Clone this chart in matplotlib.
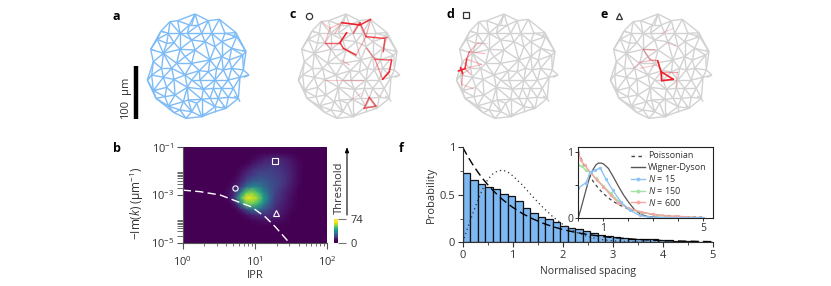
import numpy as np
import matplotlib
matplotlib.use("Agg")
import matplotlib.pyplot as plt
import matplotlib.tri as mtri
from matplotlib.collections import LineCollection
from matplotlib.ticker import FixedLocator, NullFormatter, FuncFormatter

plt.rcParams["font.family"] = ["Open Sans", "DejaVu Sans"]
plt.rcParams["mathtext.fontset"] = "custom"
plt.rcParams["mathtext.rm"] = "Open Sans"
plt.rcParams["mathtext.it"] = "Open Sans:italic"
plt.rcParams["mathtext.bf"] = "Open Sans:bold"
plt.rcParams["font.size"] = 7.5

W, H = 831, 286
TEXT = "#333333"

# network nodes (x, y), same units in all panels
nodes = [
    (285,42),(268,75),(295,75),(325,62),(358,58),(233,62),(210,65),
    (183,93),(205,100),(240,100),(262,100),(305,100),(335,100),(375,100),(408,98),
    (172,118),(200,130),(222,128),(275,120),(315,125),(365,125),(410,110),
    (152,148),(190,160),(240,148),(285,150),(345,140),(395,145),(438,155),
    (160,185),(230,190),(255,170),(275,190),(330,180),(365,170),(388,180),(428,165),
    (155,225),(185,205),(215,205),(298,212),(325,215),(350,205),(370,210),(395,205),(430,210),(447,225),
    (142,240),(190,232),(255,225),(275,240),(300,240),(345,240),(385,240),(420,232),
    (160,272),(200,262),(222,238),(262,262),(310,268),(340,265),(365,265),(400,265),
    (168,295),(195,290),(225,285),(265,300),(305,298),(330,295),(355,295),(385,292),(415,295),
    (205,318),(250,305),(290,310),(345,320),(378,325),
    (222,338),(258,355),(305,350),(345,335),(275,335),(240,330),
]
# short stubs on the rim
stubs = [
    (285,42,275,75),(152,148,165,152),(142,240,150,232),(160,272,172,268),
    (415,295,402,288),(415,295,420,305),(447,225,432,232),(438,155,428,150),
    (378,325,368,318),(305,350,312,340),(408,98,398,112),(183,93,193,98),
]

# highlighted edges: x1, y1, x2, y2, strength
red_c = [
    (272,68,327,75,1.0),(327,75,359,58,.9),(272,68,252,100,.35),(222,128,267,128,.7),
    (267,128,287,98,1.0),(267,128,277,145,.8),(277,145,315,165,.9),(307,100,327,68,.7),
    (327,68,345,110,.7),(345,110,359,58,.4),(345,110,397,115,.8),(397,115,409,112,.6),
    (397,155,402,115,.8),(315,165,345,110,.35),(347,145,372,178,.5),(372,178,422,180,.7),
    (422,180,415,215,.9),(415,215,395,238,1.0),(395,238,372,178,.5),(339,325,355,292,.7),
    (355,292,375,318,.7),(375,318,339,325,.7),(222,240,337,240,.25),(212,65,237,85,.25),
    (237,85,222,128,.3),(237,85,272,68,.3),(222,128,240,148,.3),(272,180,295,195,.3),
    (300,300,330,280,.2),(375,280,390,290,.15),
]
red_d = [
    (148,213,168,206,1.0),(155,203,161,221,1.0),(168,206,173,178,.9),(173,178,181,155,.6),
    (173,178,218,193,.3),(181,155,228,161,.3),(181,155,208,128,.3),(208,128,233,128,.2),
    (168,206,185,223,.4),(161,221,158,253,.4),(158,253,193,266,.25),(168,206,218,193,.3),
]
red_e = [
    (284,182,294,215,1.0),(294,215,296,242,1.0),(296,242,331,238,1.0),(294,215,331,238,1.0),
    (261,180,284,182,.5),(241,148,261,180,.4),(241,148,276,150,.3),(211,205,231,187,.25),
    (231,187,261,182,.3),(231,205,281,195,.25),(294,215,343,215,.4),(343,215,339,262,.25),
    (296,100,331,85,.2),(311,128,339,138,.2),
]

# heatmap of counts, top row is 1e-1, bottom row is 1e-5
heat_counts = [
    [0]*26,
    [0,0,0,0,0,0,0,0,0,0,0,0,0,0,1,1,1,1,1,0,0,0,0,0,0,0],
    [0,0,0,0,0,0,0,0,0,0,0,0,1,3,5,7,8,7,5,3,1,0,0,0,0,0],
    [0,0,0,0,0,0,0,0,0,0,0,1,4,7,9,10,10,9,7,4,2,0,0,0,0,0],
    [0,0,0,0,0,0,0,0,0,0,2,5,9,12,13,14,13,11,8,5,2,0,0,0,0,0],
    [0,0,0,0,0,0,0,0,0,0,4,9,13,16,17,16,14,12,9,5,2,0,0,0,0,0],
    [0,0,0,0,0,0,0,0,0,2,7,14,20,22,21,18,16,13,9,5,2,0,0,0,0,0],
    [0,0,0,0,0,0,0,0,1,5,12,26,34,32,26,20,16,12,8,4,1,0,0,0,0,0],
    [0,0,0,0,0,0,0,0,3,10,30,55,60,50,34,22,15,10,6,3,0,0,0,0,0,0],
    [0,0,0,0,0,0,0,0,2,14,50,72,70,62,42,24,13,9,5,2,0,0,0,0,0,0],
    [0,0,0,0,0,0,0,0,0,5,30,55,58,50,34,20,11,7,4,2,0,0,0,0,0,0],
    [0,0,0,0,0,0,0,0,0,0,6,18,28,28,20,14,9,6,3,1,0,0,0,0,0,0],
    [0,0,0,0,0,0,0,0,0,0,0,3,7,10,10,9,7,4,2,0,0,0,0,0,0,0],
    [0,0,0,0,0,0,0,0,0,0,0,0,1,2,3,4,3,2,1,0,0,0,0,0,0,0],
    [0]*26, [0]*26, [0]*26, [0]*26,
]
boundary_ipr = [1, 1.74, 3.3, 5, 8.9, 13.9, 19, 29]
boundary_im = [1.6e-3, 1.38e-3, 1e-3, 6.2e-4, 3.2e-4, 1.2e-4, 4.7e-5, 1.1e-5]
circle_pt = (5.3, 2e-3)
square_pt = (18.7, 2.7e-2)
triangle_pt = (19.3, 1.7e-4)

# panel f histogram
bar_width = 0.15
bar_heights = [.73,.655,.615,.585,.565,.51,.49,.435,.365,.31,.27,.25,.215,.17,.155,.14,.115,
               .095,.08,.065,.06,.05,.04,.035,.03,.03,.022,.02,.017,.012,.01,.008,.006]
s_grid = [0,.1,.2,.3,.4,.5,.6,.7,.8,.9,1,1.2,1.4,1.6,1.8,2,2.25,2.5,2.75,3,3.5,4,4.5,5]
poisson = [1,.905,.819,.741,.670,.607,.549,.497,.449,.407,.368,.301,.247,.202,.165,.135,.105,.082,.064,.050,.030,.018,.011,.007]
wigner_main = [0,.155,.30,.44,.56,.66,.72,.75,.76,.74,.70,.60,.48,.37,.27,.19,.11,.06,.03,.015,.003,0,0,0]
wigner_inset = [0,.13,.27,.41,.55,.66,.74,.80,.83,.83,.82,.75,.62,.48,.35,.24,.12,.05,.02,.01,0,0,0,0]
n15_x = [0,.3,.5,.68,.87,1.1,1.37,1.7,2.05,2.45,2.8,3.5,5]
n15_y = [.45,.53,.7,.72,.76,.59,.42,.24,.115,.035,.01,0,0]
n150_x = [0,.15,.3,.5,.7,1,1.3,1.6,2,2.5,3,3.5,4,5]
n150_y = [.8,.78,.72,.68,.6,.48,.37,.25,.14,.08,.05,.02,.01,0]
n600_x = [0,.1,.25,.5,.75,1,1.3,1.6,2,2.5,3,3.5,4,5]
n600_y = [1,.87,.8,.68,.57,.47,.34,.23,.14,.09,.05,.03,.02,0]
legend_labels = ["Poissonian", "Wigner-Dyson", r"$N$ = 15", r"$N$ = 150", r"$N$ = 600"]


def px_axes(x0, y0, x1, y1, **kw):
    return fig.add_axes([x0/W, 1-y1/H, (x1-x0)/W, (y1-y0)/H], **kw)


def ftext(x, y, s, **kw):
    return fig.text(x/W, 1-y/H, s, **kw)


fig = plt.figure(figsize=(W/100, H/100), dpi=100)

# network edges from the nodes
pts = np.array(nodes, dtype=float)
tri = mtri.Triangulation(pts[:, 0], pts[:, 1])
edge_segs = []
for a, b in tri.edges:
    if np.hypot(*(pts[a]-pts[b])) < 70:
        edge_segs.append([pts[a], pts[b]])
for x1, y1, x2, y2 in stubs:
    edge_segs.append([(x1, y1), (x2, y2)])


def network(shift, color, red=None):
    ax = px_axes(100+shift, 0, 280+shift, 135)
    ax.set_xlim(0, 540)
    ax.set_ylim(405, 0)
    ax.axis("off")
    ax.add_collection(LineCollection(edge_segs, colors=color, linewidths=1.0))
    if red:
        for x1, y1, x2, y2, st in red:
            ax.plot([x1, x2], [y1, y2], color="#f0202a", alpha=st, lw=0.7+0.5*st,
                    solid_capstyle="round")
    return ax


ax_a = network(0, "#7dbbf7")
ax_a.plot([107, 107], [198, 358], color="black", lw=3.2, solid_capstyle="butt")
ftext(126, 119, "100", rotation=90, ha="center", va="bottom", color=TEXT, fontsize=8)
ftext(126, 94, "µm", rotation=90, ha="center", va="bottom", color=TEXT, fontsize=8)
network(151, "#d2d2d2", red_c)
network(309, "#d2d2d2", red_d)
network(463, "#d2d2d2", red_e)

for x, y, s in [(116, 16, "a"), (117, 148, "b"), (293, 15, "c"), (450, 15, "d"),
                (604, 15, "e"), (401, 148, "f")]:
    ftext(x, y, s, fontweight="bold", fontsize=9, ha="center", va="center", color="black")

# little symbols next to the panel letters
ax_sym = px_axes(0, 0, W, H)
ax_sym.set_xlim(0, W)
ax_sym.set_ylim(H, 0)
ax_sym.axis("off")
ax_sym.patch.set_alpha(0)
ax_sym.plot([309], [15.5], "o", mfc="none", mec="#333333", ms=4.5, mew=0.9)
ax_sym.plot([466], [15], "s", mfc="none", mec="#333333", ms=4.5, mew=0.9)
ax_sym.plot([619], [15.5], "^", mfc="none", mec="#333333", ms=4.5, mew=0.9)

# panel b
ax_b = px_axes(182.7, 147.3, 327.3, 242.7)
counts = np.array(heat_counts, dtype=float)[::-1]
xc = np.logspace(0, 2, counts.shape[1])
yc = np.logspace(-5, -1, counts.shape[0])
ax_b.set_facecolor(plt.cm.viridis(0))
mesh = ax_b.pcolormesh(xc, yc, counts, cmap="viridis", vmin=0, vmax=74, shading="gouraud")
ax_b.set_xscale("log")
ax_b.set_yscale("log")
ax_b.set_xlim(1, 100)
ax_b.set_ylim(1e-5, 1e-1)
ax_b.plot(boundary_ipr, boundary_im, color="white", lw=1.0, dashes=(6, 3))
for pt, m in [(circle_pt, "o"), (square_pt, "s"), (triangle_pt, "^")]:
    ax_b.plot([pt[0]], [pt[1]], m, mfc="none", mec="white", ms=3.8, mew=0.8)
for sp in ["top", "right"]:
    ax_b.spines[sp].set_visible(False)
for sp in ["left", "bottom"]:
    ax_b.spines[sp].set_color("#555555")
    ax_b.spines[sp].set_linewidth(0.8)
ax_b.xaxis.set_major_locator(FixedLocator([1, 10, 100]))
ax_b.xaxis.set_minor_locator(FixedLocator([k*d for d in (1, 10) for k in range(2, 10)]))
ax_b.yaxis.set_major_locator(FixedLocator([1e-5, 1e-3, 1e-1]))
ax_b.yaxis.set_minor_locator(FixedLocator([k*d for d in (1e-5, 1e-3) for k in range(2, 10)]))
ax_b.xaxis.set_minor_formatter(NullFormatter())
ax_b.yaxis.set_minor_formatter(NullFormatter())
ax_b.xaxis.set_major_formatter(FuncFormatter(lambda v, p: r"$\mathregular{10^{%d}}$" % round(np.log10(v))))
ax_b.yaxis.set_major_formatter(FuncFormatter(lambda v, p: r"$\mathregular{10^{%d}}$" % round(np.log10(v))))
ax_b.tick_params(which="major", length=4, width=0.8, color="#555555", labelcolor=TEXT, labelsize=8, pad=2)
ax_b.tick_params(axis="y", which="minor", length=4, width=0.6, color="#555555")
ax_b.tick_params(axis="x", which="minor", length=2, width=0.6, color="#555555")
ax_b.tick_params(axis="x", which="major", pad=5)
ax_b.set_xlabel("IPR", color=TEXT, fontsize=8, labelpad=1)
ftext(137, 203, r"$-$Im($k$) (µm$^{-1}$)", rotation=90, ha="center", va="center", color=TEXT, fontsize=8.5)

# colour bar for panel b
ax_cb = px_axes(334, 219.3, 338, 242.7)
ax_cb.imshow(np.array([[74], [50], [25], [0]], dtype=float), cmap="viridis", vmin=0, vmax=74,
             aspect="auto", extent=[0, 1, 0, 74], interpolation="bilinear")
ax_cb.set_xticks([])
ax_cb.yaxis.tick_right()
ax_cb.set_yticks([0, 74])
ax_cb.tick_params(length=6, width=0.8, color="#777777", labelcolor=TEXT, labelsize=8, pad=3)
for sp in ax_cb.spines.values():
    sp.set_visible(False)
ftext(339.5, 188, "Threshold", rotation=90, ha="center", va="center", color=TEXT, fontsize=8)
ax_sym.annotate("", xy=(347, 147), xytext=(347, 215),
                arrowprops=dict(arrowstyle="-|>,head_width=0.15,head_length=0.4", color="black", lw=0.8, shrinkA=0, shrinkB=0))

# panel f
ax_f = px_axes(462.7, 147.3, 712.7, 242.3)
bar_left = [i*bar_width for i in range(len(bar_heights))]
ax_f.bar(bar_left, bar_heights, width=bar_width, align="edge", color="#7db8f2", edgecolor="#111111", linewidth=0.9)
ax_f.plot(s_grid, poisson, color="black", lw=1.0, dashes=(6, 3))
ax_f.plot(s_grid, wigner_main, color="#333333", lw=0.9, dashes=(1, 2.5))
ax_f.set_xlim(0, 5)
ax_f.set_ylim(0, 1)
for sp in ["top", "right"]:
    ax_f.spines[sp].set_visible(False)
for sp in ["left", "bottom"]:
    ax_f.spines[sp].set_color("#333333")
    ax_f.spines[sp].set_linewidth(0.8)
ax_f.set_xticks([0, 1, 2, 3, 4, 5])
ax_f.set_xticks([.5, 1.5, 2.5, 3.5, 4.5], minor=True)
ax_f.set_yticks([0, .5, 1])
ax_f.set_yticklabels(["0", "0.5", "1"])
ax_f.set_yticks([.25, .75], minor=True)
ax_f.tick_params(which="major", length=3.5, width=0.8, color="#333333", labelcolor=TEXT, labelsize=8, pad=2)
ax_f.tick_params(which="minor", length=2, width=0.6, color="#333333")
ax_f.set_xlabel("Normalised spacing", color=TEXT, fontsize=7.5, labelpad=4)
ax_f.set_ylabel("Probability", color=TEXT, fontsize=8, labelpad=2)

# inset of panel f
ax_in = px_axes(578.3, 147.3, 712.7, 217.7)
ax_in.plot(s_grid, poisson, color="#444444", lw=0.9, dashes=(2.5, 2.5))
ax_in.plot(s_grid, wigner_inset, color="#555555", lw=0.9)
ax_in.plot(n150_x, n150_y, color="#a4e3a4", lw=1.0, marker="o", ms=1.3)
ax_in.plot(n600_x, n600_y, color="#f5a6a0", lw=1.0, marker="o", ms=1.3)
ax_in.plot(n15_x, n15_y, color="#8fc3f5", lw=1.0, marker="o", ms=1.3)
ax_in.set_xlim(0, 5.37)
ax_in.set_ylim(0, 1.07)
ax_in.set_xticks([0, 1, 2, 3, 4, 5])
ax_in.set_xticklabels(["", "1", "", "", "", "5"])
ax_in.set_yticks([0, .5, 1])
ax_in.set_yticklabels(["0", "", "1"])
ax_in.tick_params(length=2, width=0.7, color="#333333", labelcolor=TEXT, labelsize=7.5, pad=1.5)
for sp in ax_in.spines.values():
    sp.set_color("#222222")
    sp.set_linewidth(0.8)

# legend rows placed by hand so the spacing stays even
legend_colors = ["#444444", "#555555", "#8fc3f5", "#a4e3a4", "#f5a6a0"]
legend_rows = [155.7, 167.3, 179, 190.7, 202.3]
for i in range(5):
    yy = legend_rows[i]
    row, = ax_sym.plot([630.7, 645], [yy, yy], color=legend_colors[i], lw=1.0)
    if i == 0:
        row.set_dashes((2.5, 2.5))
    if i >= 2:
        ax_sym.plot([637.8], [yy], "o", color=legend_colors[i], ms=1.8)
    ftext(648.3, yy, legend_labels[i], ha="left", va="center", color=TEXT, fontsize=6.5, zorder=10)
ax_sym.set_zorder(10)

fig.savefig("out.png", dpi=100)
